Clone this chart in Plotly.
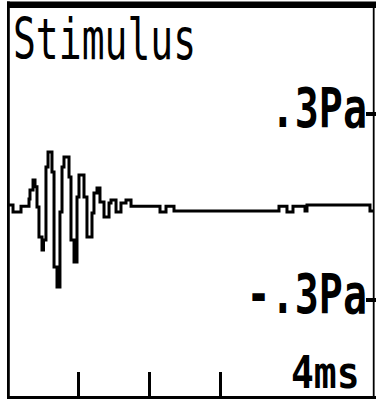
import plotly.graph_objects as go

# Stimulus waveform (time in ms, pressure in Pa), stepped samples
time_ms = [0.000, 0.071, 0.184, 0.297, 0.311, 0.354, 0.382, 0.410, 0.438, 0.481,
           0.502, 0.537, 0.566, 0.622, 0.651, 0.693, 0.735, 0.764, 0.792, 0.863,
           0.891, 0.934, 0.976, 1.004, 1.075, 1.117, 1.188, 1.216, 1.259, 1.301,
           1.358, 1.429, 1.457, 1.528, 1.598, 1.669, 1.740, 2.150, 2.235, 2.348,
           3.833, 3.946, 4.031, 4.201, 4.229, 5.120, 5.163]
pressure_pa = [0.006, -0.017, 0.002, 0.025, 0.054, 0.086, 0.064, -0.001, -0.097, -0.139,
               -0.107, 0.128, 0.176, 0.112, -0.194, -0.258, -0.017, 0.128, 0.160, 0.096,
               -0.107, -0.178, 0.031, 0.102, 0.031, -0.097, -0.020, 0.044, 0.060, 0.015,
               -0.033, 0.012, 0.022, -0.017, 0.012, 0.022, 0.002, -0.017, 0.002, -0.014,
               0.002, -0.017, 0.002, -0.014, 0.006, -0.014, -0.014]

x_tick_vals = [1, 2, 3]
y_tick_vals = [0.3, -0.3]
y_tick_text = [".3Pa", "-.3Pa"]
title_text = "Stimulus"
scale_text = "4ms"

W, H = 376, 399
FONT = "DejaVu Sans Mono"

fig = go.Figure()
fig.add_trace(go.Scatter(
    x=time_ms, y=pressure_pa, mode="lines",
    line=dict(color="black", width=3, shape="hv"),
    hoverinfo="skip", showlegend=False,
))

# LCD-style frame
def px_x(v):
    return v / W

def px_y(v):
    return 1 - v / H

frame = [
    (7, 1.5, 376, 8),      # top band
    (7, 1.5, 9.8, 399),    # left edge
    (7, 396, 376, 399),    # bottom edge
    (372.8, 8, 374.6, 399) # right edge
]
for x0, y0, x1, y1 in frame:
    fig.add_shape(type="rect", xref="paper", yref="paper",
                  x0=px_x(x0), x1=px_x(x1), y0=px_y(y0), y1=px_y(y1),
                  fillcolor="black", line=dict(width=0), layer="above")

fig.add_annotation(text=title_text, xref="paper", yref="paper",
                   x=px_x(11), y=px_y(40), xanchor="left", yanchor="middle",
                   showarrow=False, font=dict(family=FONT, size=38, color="black"))
fig.add_annotation(text=scale_text, xref="paper", yref="paper",
                   x=px_x(362), y=px_y(373), xanchor="right", yanchor="middle",
                   showarrow=False, font=dict(family=FONT, size=38, color="black", weight="bold"))

fig.update_layout(
    width=W, height=H,
    margin=dict(l=0, r=0, t=0, b=0, pad=0),
    paper_bgcolor="white", plot_bgcolor="white",
    xaxis=dict(range=[-8 / 70.7, (W - 8) / 70.7], showgrid=False, zeroline=False,
               showline=False, tickvals=x_tick_vals, ticks="inside", ticklen=27,
               tickwidth=2.5, tickcolor="black", showticklabels=False, fixedrange=True),
    yaxis=dict(range=[-(H - 206.75) / 310.83, 206.75 / 310.83], side="right",
               showgrid=False, zeroline=False, showline=False,
               tickvals=y_tick_vals, ticktext=y_tick_text, ticks="inside",
               ticklen=10, tickwidth=4, tickcolor="black",
               ticklabelposition="inside", ticklabelstandoff=4,
               tickfont=dict(family=FONT, size=40, color="black", weight="bold"),
               fixedrange=True),
)

# Tall, narrow lettering of the display font, with small vertical nudges
stretch_js = """
var gd = document.getElementById('{plot_id}');
var scales = {"Stimulus": 1.5, ".3Pa": 1.38, "-.3Pa": 1.38, "4ms": 1.15};
var nudge = {"Stimulus": 0, ".3Pa": -6, "-.3Pa": -6, "4ms": 0};
gd.querySelectorAll('svg text').forEach(function(t){
  var k = t.textContent;
  var s = scales[k];
  if (s === undefined) return;
  var bb = t.getBBox();
  var cy = bb.y + bb.height / 2;
  var prev = t.getAttribute('transform') || '';
  t.setAttribute('transform', prev + ' translate(0,' + (cy + nudge[k]) + ') scale(1,' + s + ') translate(0,' + (-cy) + ')');
});
"""

fig.write_html("out.html", post_script=stretch_js, config={"displayModeBar": False})
